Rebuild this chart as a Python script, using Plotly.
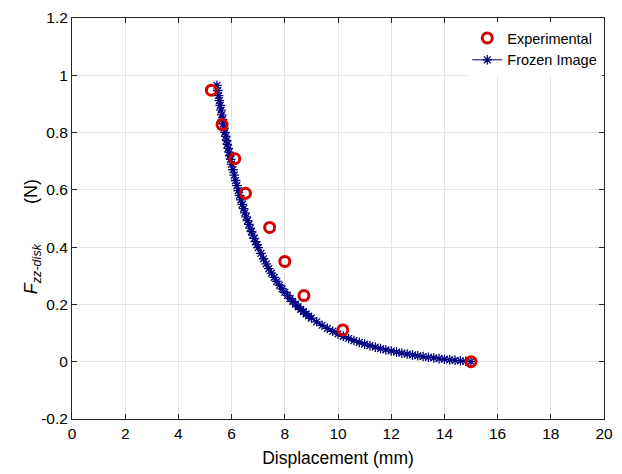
import plotly.graph_objects as go

# Measured force on the disk (experiment)
exp_disp = [5.24, 5.64, 6.12, 6.52, 7.43, 8.0, 8.72, 10.18, 15.0]
exp_force = [0.948, 0.828, 0.709, 0.588, 0.469, 0.350, 0.231, 0.111, 0.0]

# Frozen-image model prediction
frozen_disp = [
    5.45, 5.48, 5.51, 5.54, 5.57, 5.60, 5.63, 5.66, 5.69, 5.72,
    5.75, 5.78, 5.81, 5.84, 5.87, 5.90, 5.93, 5.96, 6.00,
    6.05, 6.10, 6.15, 6.20, 6.25, 6.30, 6.35, 6.40, 6.45, 6.50,
    6.55, 6.60, 6.65, 6.70, 6.75, 6.80, 6.85, 6.90, 6.95, 7.00,
    7.1, 7.2, 7.3, 7.4, 7.5, 7.6, 7.7, 7.8, 7.9, 8.0,
    8.1, 8.2, 8.3, 8.4, 8.5, 8.6, 8.7, 8.8, 8.9, 9.0,
    9.2, 9.4, 9.6, 9.8, 10.0, 10.2, 10.4, 10.6, 10.8, 11.0,
    11.2, 11.4, 11.6, 11.8, 12.0, 12.2, 12.4, 12.6, 12.8, 13.0,
    13.2, 13.4, 13.6, 13.8, 14.0, 14.2, 14.4, 14.6, 14.8, 15.0,
]
frozen_force = [
    0.9650, 0.9468, 0.9290, 0.9117, 0.8947, 0.8782, 0.8620, 0.8462, 0.8308, 0.8157,
    0.8009, 0.7865, 0.7724, 0.7586, 0.7451, 0.7319, 0.7190, 0.7064, 0.6900,
    0.6702, 0.6511, 0.6326, 0.6148, 0.5976, 0.5810, 0.5649, 0.5494, 0.5344, 0.5199,
    0.5059, 0.4923, 0.4792, 0.4665, 0.4542, 0.4423, 0.4308, 0.4196, 0.4088, 0.3983,
    0.3783, 0.3594, 0.3417, 0.3250, 0.3092, 0.2943, 0.2803, 0.2670, 0.2544, 0.2425,
    0.2313, 0.2206, 0.2105, 0.2009, 0.1918, 0.1831, 0.1749, 0.1671, 0.1596, 0.1525,
    0.1393, 0.1273, 0.1163, 0.1063, 0.0971, 0.0887, 0.0810, 0.0739, 0.0674, 0.0614,
    0.0558, 0.0507, 0.0459, 0.0415, 0.0374, 0.0336, 0.0300, 0.0267, 0.0236, 0.0207,
    0.0180, 0.0155, 0.0131, 0.0109, 0.0088, 0.0068, 0.0050, 0.0032, 0.0016, 0.0000,
]

x_ticks = [0, 2, 4, 6, 8, 10, 12, 14, 16, 18, 20]
x_labels = ["0", "2", "4", "6", "8", "10", "12", "14", "16", "18", "20"]
y_ticks = [-0.2, 0, 0.2, 0.4, 0.6, 0.8, 1.0, 1.2]
y_labels = ["-0.2", "0", "0.2", "0.4", "0.6", "0.8", "1", "1.2"]

FONT = "Liberation Sans, Arial, sans-serif"
AXIS_COLOR = "#262626"
GRID_COLOR = "#e3e3e3"

fig = go.Figure()

fig.add_trace(go.Scatter(
    x=frozen_disp, y=frozen_force,
    mode="lines+markers",
    name="Frozen Image",
    line=dict(color="#000080", width=1),
    marker=dict(symbol="asterisk-open", size=8, color="#000080",
                line=dict(color="#000080", width=1.3)),
))

fig.add_trace(go.Scatter(
    x=exp_disp, y=exp_force,
    mode="markers",
    name="Experimental",
    marker=dict(symbol="circle-open", size=10, color="#d40000",
                line=dict(color="#d40000", width=3)),
))

axis_common = dict(
    showline=True, linecolor=AXIS_COLOR, linewidth=1, mirror="allticks",
    ticks="inside", ticklen=5, tickcolor=AXIS_COLOR, tickwidth=1,
    showgrid=True, gridcolor=GRID_COLOR, gridwidth=1,
    zeroline=False,
    tickfont=dict(family=FONT, size=15.5, color="#000000"),
)

fig.update_xaxes(
    range=[0, 20], tickvals=x_ticks, ticktext=x_labels,
    title=dict(text="Displacement (mm)", font=dict(family=FONT, size=17.5, color="#000000"),
               standoff=11),
    **axis_common,
)
fig.update_yaxes(
    range=[-0.2, 1.2], tickvals=y_ticks, ticktext=y_labels,
    **axis_common,
)

# y-axis label with italic subscript, rotated
fig.add_annotation(
    text="<i>F</i><sub><i>zz-disk</i></sub>        (N)",
    xref="paper", yref="paper", x=-0.074, y=0.455,
    xanchor="center", yanchor="middle", textangle=-90, showarrow=False,
    font=dict(family=FONT, size=18, color="#000000"),
)

fig.update_layout(
    width=622, height=474,
    margin=dict(l=72, r=9, t=15, b=52),
    paper_bgcolor="#ffffff", plot_bgcolor="#ffffff",
    font=dict(family=FONT, color="#000000"),
    legend=dict(
        x=0.743, y=0.99, xanchor="left", yanchor="top",
        traceorder="reversed",
        bgcolor="rgba(255,255,255,1)", borderwidth=0,
        font=dict(family=FONT, size=14.5, color="#000000"),
        itemwidth=30, tracegroupgap=0,
    ),
)

fig.write_html("out.html")
